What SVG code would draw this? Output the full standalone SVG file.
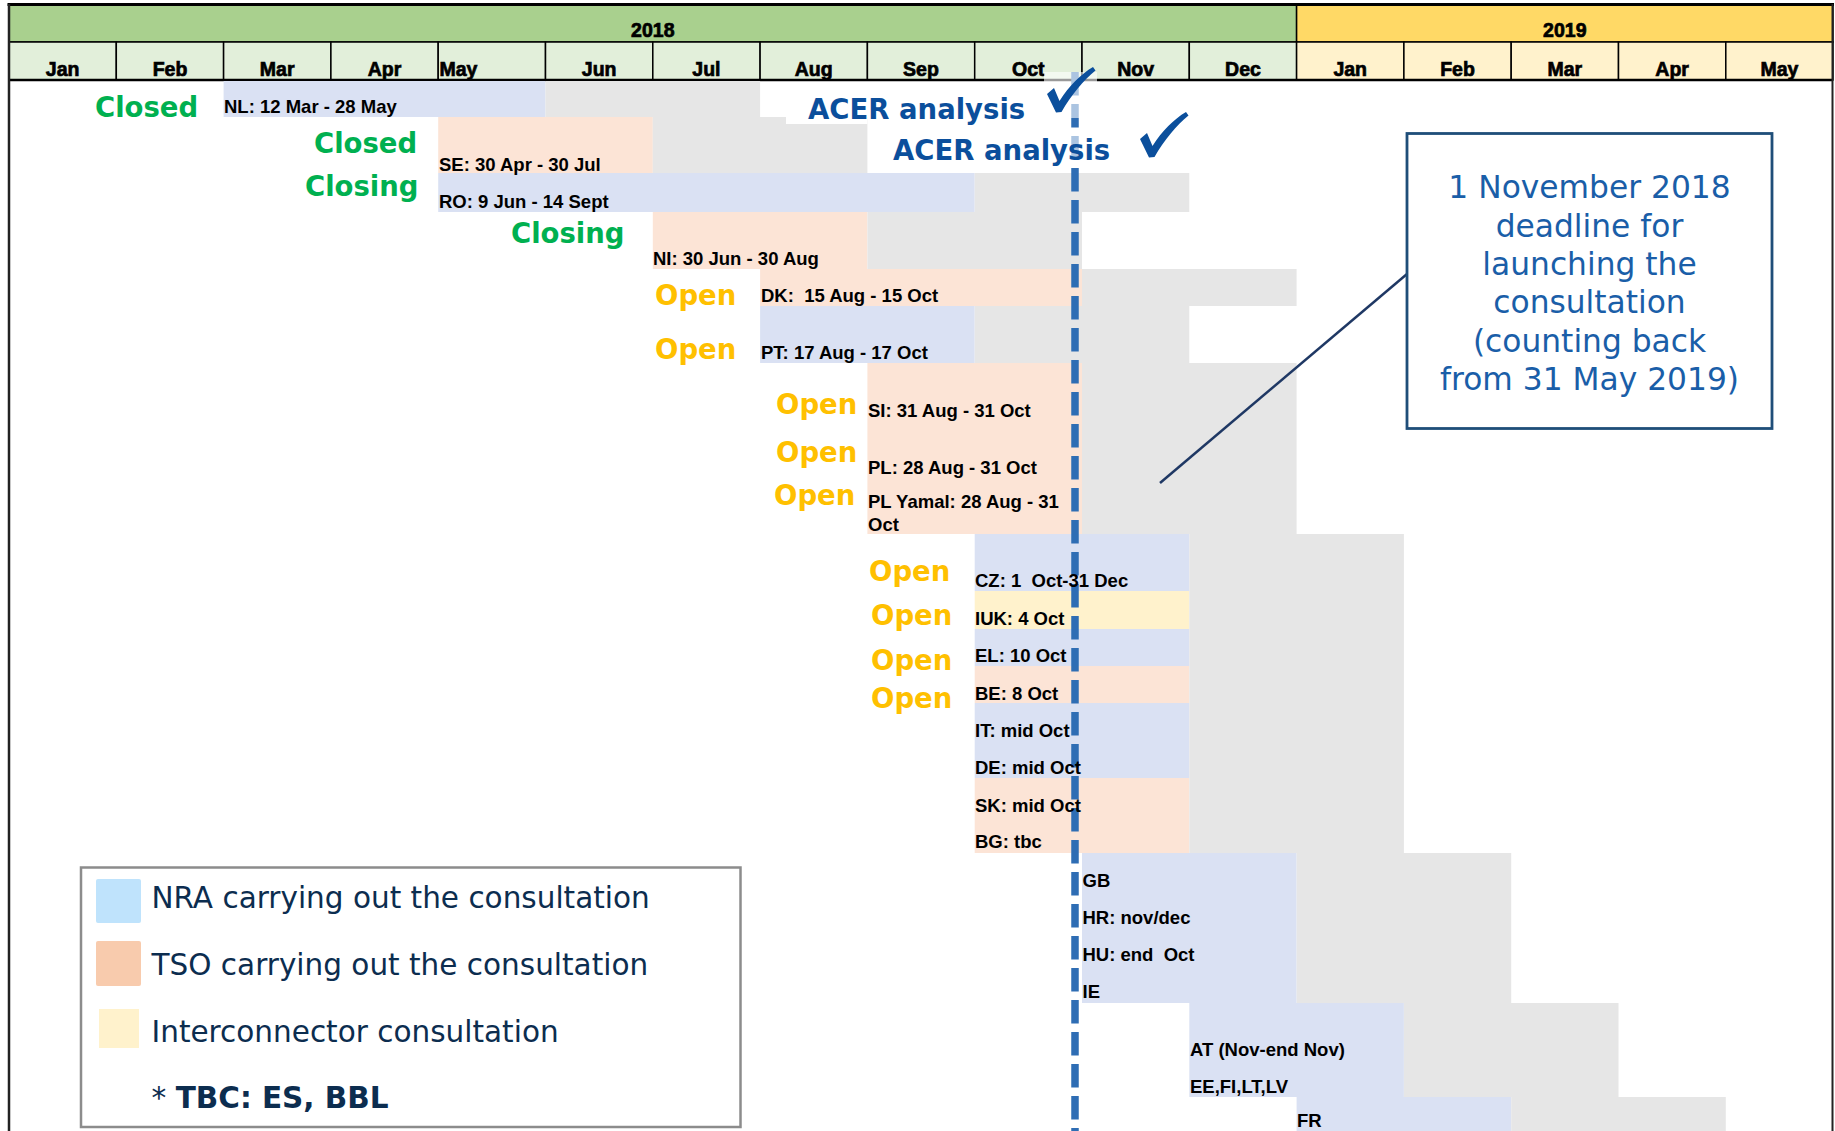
<svg xmlns="http://www.w3.org/2000/svg" width="1835" height="1131" viewBox="0 0 1835 1131">
<defs>
<style>
.hd{font-family:"Liberation Sans",Arial,sans-serif;font-weight:bold;font-size:19.5px;fill:#000;stroke:#000;stroke-width:0.7px;text-anchor:middle}
.lbl{font-family:"Liberation Sans",Arial,sans-serif;font-weight:bold;font-size:18.5px;fill:#000}
.st{font-family:"DejaVu Sans",Verdana,sans-serif;font-weight:bold;font-size:27.5px}
.green{fill:#00b050}
.open{fill:#ffc000}
.acer{fill:#0b4f9c}
.nra{fill:#dae1f3}
.tso{fill:#fce4d6}
.ic{fill:#fff2cc}
.gr{fill:#e6e6e6}
.mg{fill:#e2efda;stroke:#000;stroke-width:1.5px}
.my{fill:#fff2cc;stroke:#000;stroke-width:1.5px}
.call{font-family:"DejaVu Sans",Verdana,sans-serif;font-size:31.3px;fill:#1a5ea8;text-anchor:middle}
.leg{font-family:"DejaVu Sans",Verdana,sans-serif;font-size:29.5px;fill:#0c2d4f}
</style>
<path id="chk" d="M1047,94 L1054,88 L1059.5,101 C1069,86 1081,74 1093,67 L1095.5,70.5 C1084,80 1071,95 1061.5,112 L1056,112.5 Z" fill="#0b4f9c"/>
</defs>
<rect x="0" y="0" width="1835" height="1131" fill="#fff"/>

<g id="header">
<rect x="9" y="5" width="1287.6" height="37" fill="#a9d08e" stroke="#000" stroke-width="1.5"/>
<rect x="1296.6" y="5" width="536.4" height="37" fill="#ffd966" stroke="#000" stroke-width="1.5"/>
<text class="hd" x="652.8" y="36.5">2018</text>
<text class="hd" x="1564.8" y="36.5">2019</text>
<rect class="mg" x="9" y="42" width="107.3" height="38"/>
<rect class="mg" x="116.3" y="42" width="107.3" height="38"/>
<rect class="mg" x="223.6" y="42" width="107.3" height="38"/>
<rect class="mg" x="330.9" y="42" width="107.3" height="38"/>
<rect class="mg" x="438.2" y="42" width="107.3" height="38"/>
<rect class="mg" x="545.5" y="42" width="107.3" height="38"/>
<rect class="mg" x="652.8" y="42" width="107.3" height="38"/>
<rect class="mg" x="760.1" y="42" width="107.3" height="38"/>
<rect class="mg" x="867.4" y="42" width="107.3" height="38"/>
<rect class="mg" x="974.7" y="42" width="107.3" height="38"/>
<rect class="mg" x="1082" y="42" width="107.3" height="38"/>
<rect class="mg" x="1189.3" y="42" width="107.3" height="38"/>
<rect class="my" x="1296.6" y="42" width="107.3" height="38"/>
<rect class="my" x="1403.9" y="42" width="107.3" height="38"/>
<rect class="my" x="1511.2" y="42" width="107.3" height="38"/>
<rect class="my" x="1618.5" y="42" width="107.3" height="38"/>
<rect class="my" x="1725.8" y="42" width="107.2" height="38"/>
<text class="hd" x="62.6" y="76">Jan</text>
<text class="hd" x="170" y="76">Feb</text>
<text class="hd" x="277.2" y="76">Mar</text>
<text class="hd" x="384.5" y="76">Apr</text>
<text class="hd" x="439.5" y="76" style="text-anchor:start">May</text>
<text class="hd" x="599.2" y="76">Jun</text>
<text class="hd" x="706.4" y="76">Jul</text>
<text class="hd" x="813.7" y="76">Aug</text>
<text class="hd" x="921" y="76">Sep</text>
<text class="hd" x="1028.3" y="76">Oct</text>
<text class="hd" x="1135.6" y="76">Nov</text>
<text class="hd" x="1243" y="76">Dec</text>
<text class="hd" x="1350.2" y="76">Jan</text>
<text class="hd" x="1457.5" y="76">Feb</text>
<text class="hd" x="1564.8" y="76">Mar</text>
<text class="hd" x="1672.1" y="76">Apr</text>
<text class="hd" x="1779.4" y="76">May</text>
<line x1="7.5" y1="4.5" x2="1834" y2="4.5" stroke="#000" stroke-width="3"/>
<line x1="9" y1="80" x2="1833" y2="80" stroke="#000" stroke-width="2.5"/>
</g>

<g id="bars">
<rect class="nra" x="223.6" y="81" width="321.9" height="36"/>
<rect class="gr" x="545.5" y="81" width="214.6" height="36"/>
<rect class="tso" x="438.2" y="117" width="214.6" height="56"/>
<rect class="gr" x="652.8" y="117" width="214.6" height="56"/>
<rect fill="#fff" x="786" y="117" width="81.4" height="7"/>
<rect class="nra" x="438.2" y="173" width="536.5" height="39"/>
<rect class="gr" x="974.7" y="173" width="214.6" height="39"/>
<rect class="tso" x="652.8" y="212" width="214.6" height="57"/>
<rect class="gr" x="867.4" y="212" width="214.6" height="57"/>
<rect class="tso" x="760.1" y="269" width="321.9" height="37"/>
<rect class="gr" x="1082" y="269" width="214.6" height="37"/>
<rect class="nra" x="760.1" y="306" width="214.6" height="57"/>
<rect class="gr" x="974.7" y="306" width="214.6" height="57"/>
<rect class="tso" x="867.4" y="363" width="214.6" height="171"/>
<rect class="gr" x="1082" y="363" width="214.6" height="171"/>
<rect class="nra" x="974.7" y="534" width="214.6" height="57"/>
<rect class="ic" x="974.7" y="591" width="214.6" height="38"/>
<rect class="nra" x="974.7" y="629" width="214.6" height="37"/>
<rect class="tso" x="974.7" y="666" width="214.6" height="37"/>
<rect class="nra" x="974.7" y="703" width="214.6" height="75"/>
<rect class="tso" x="974.7" y="778" width="214.6" height="75"/>
<rect class="gr" x="1189.3" y="534" width="214.6" height="319"/>
<rect class="nra" x="1082" y="853" width="214.6" height="150"/>
<rect class="gr" x="1296.6" y="853" width="214.6" height="150"/>
<rect class="nra" x="1189.3" y="1003" width="214.6" height="94"/>
<rect class="gr" x="1403.9" y="1003" width="214.6" height="94"/>
<rect class="nra" x="1296.6" y="1097" width="214.6" height="34"/>
<rect class="gr" x="1511.2" y="1097" width="214.6" height="34"/>
</g>

<g id="deadline-line">
<line x1="1075" y1="72" x2="1075" y2="1131" stroke="#2e6db4" stroke-width="7.5" stroke-dasharray="23.5 8.5"/>
<rect x="1044" y="72" width="53" height="46" fill="#fff" fill-opacity="0.6"/>
<rect x="1062" y="128" width="26" height="32" fill="#fff" fill-opacity="0.6"/>
</g>

<g id="acer">
<text class="st acer" x="808" y="119">ACER analysis</text>
<text class="st acer" x="893" y="160">ACER analysis</text>
<use href="#chk"/>
<use href="#chk" transform="translate(93,45)"/>
</g>

<g id="row-nl"><text class="st green" x="95" y="117">Closed</text><text class="lbl" x="224" y="113">NL: 12 Mar - 28 May</text></g>
<g id="row-se"><text class="st green" x="314" y="153">Closed</text><text class="lbl" x="439" y="171">SE: 30 Apr - 30 Jul</text></g>
<g id="row-ro"><text class="st green" x="305" y="196">Closing</text><text class="lbl" x="439" y="208">RO: 9 Jun - 14 Sept</text></g>
<g id="row-ni"><text class="st green" x="511" y="243">Closing</text><text class="lbl" x="653" y="264.5">NI: 30 Jun - 30 Aug</text></g>
<g id="row-dk"><text class="st open" x="655" y="305">Open</text><text class="lbl" x="761" y="301.5" xml:space="preserve">DK:  15 Aug - 15 Oct</text></g>
<g id="row-pt"><text class="st open" x="655" y="359">Open</text><text class="lbl" x="761" y="359">PT: 17 Aug - 17 Oct</text></g>
<g id="row-si"><text class="st open" x="776" y="414">Open</text><text class="lbl" x="868" y="416.5">SI: 31 Aug - 31 Oct</text></g>
<g id="row-pl"><text class="st open" x="776" y="462">Open</text><text class="lbl" x="868" y="473.5">PL: 28 Aug - 31 Oct</text></g>
<g id="row-plyamal"><text class="st open" x="774" y="505">Open</text><text class="lbl" x="868" y="507.5">PL Yamal: 28 Aug - 31</text><text class="lbl" x="868" y="530.5">Oct</text></g>
<g id="row-cz"><text class="st open" x="869" y="581">Open</text><text class="lbl" x="975" y="587" xml:space="preserve">CZ: 1  Oct-31 Dec</text></g>
<g id="row-iuk"><text class="st open" x="871" y="625">Open</text><text class="lbl" x="975" y="624.5">IUK: 4 Oct</text></g>
<g id="row-el"><text class="st open" x="871" y="670">Open</text><text class="lbl" x="975" y="661.5">EL: 10 Oct</text></g>
<g id="row-be"><text class="st open" x="871" y="708">Open</text><text class="lbl" x="975" y="699.5">BE: 8 Oct</text></g>
<g id="row-it"><text class="lbl" x="975" y="736.5">IT: mid Oct</text></g>
<g id="row-de"><text class="lbl" x="975" y="774">DE: mid Oct</text></g>
<g id="row-sk"><text class="lbl" x="975" y="811.5">SK: mid Oct</text></g>
<g id="row-bg"><text class="lbl" x="975" y="848">BG: tbc</text></g>
<g id="row-gb"><text class="lbl" x="1082.5" y="886.5">GB</text></g>
<g id="row-hr"><text class="lbl" x="1082.5" y="924">HR: nov/dec</text></g>
<g id="row-hu"><text class="lbl" x="1082.5" y="960.5" xml:space="preserve">HU: end  Oct</text></g>
<g id="row-ie"><text class="lbl" x="1082.5" y="997.5">IE</text></g>
<g id="row-at"><text class="lbl" x="1190" y="1055.5">AT (Nov-end Nov)</text></g>
<g id="row-ee"><text class="lbl" x="1190" y="1092.5">EE,FI,LT,LV</text></g>
<g id="row-fr"><text class="lbl" x="1297" y="1126.5">FR</text></g>

<g id="connectors">
<line x1="1407" y1="274" x2="1160" y2="483" stroke="#1f3864" stroke-width="2.5"/>
</g>

<g id="callout">
<rect x="1407" y="133.5" width="365" height="295" fill="#fff" stroke="#1f4e79" stroke-width="2.8"/>
<text class="call" x="1589.5" y="198">1 November 2018</text>
<text class="call" x="1589.5" y="236.5">deadline for</text>
<text class="call" x="1589.5" y="275">launching the</text>
<text class="call" x="1589.5" y="313">consultation</text>
<text class="call" x="1589.5" y="351.5">(counting back</text>
<text class="call" x="1589.5" y="390">from 31 May 2019)</text>
</g>

<g id="legend">
<rect x="81" y="867.5" width="659.5" height="259.5" fill="#fff" stroke="#8c8c8c" stroke-width="2.5"/>
<rect x="96" y="879" width="45" height="44" rx="2" fill="#bfe3fc"/>
<rect x="96" y="941" width="45" height="45" rx="2" fill="#f8cbad"/>
<rect x="99" y="1009" width="40" height="39" fill="#fff2cc"/>
<text class="leg" x="151.5" y="908">NRA carrying out the consultation</text>
<text class="leg" x="151.5" y="975">TSO carrying out the consultation</text>
<text class="leg" x="151.5" y="1041.5">Interconnector consultation</text>
<text class="leg" x="151.5" y="1108">* <tspan font-weight="bold">TBC: ES, BBL</tspan></text>
</g>

<g id="frame">
<line x1="9" y1="4" x2="9" y2="1131" stroke="#222" stroke-width="2.5"/>
<line x1="1832.5" y1="4" x2="1832.5" y2="1131" stroke="#222" stroke-width="2"/>
</g>
</svg>
